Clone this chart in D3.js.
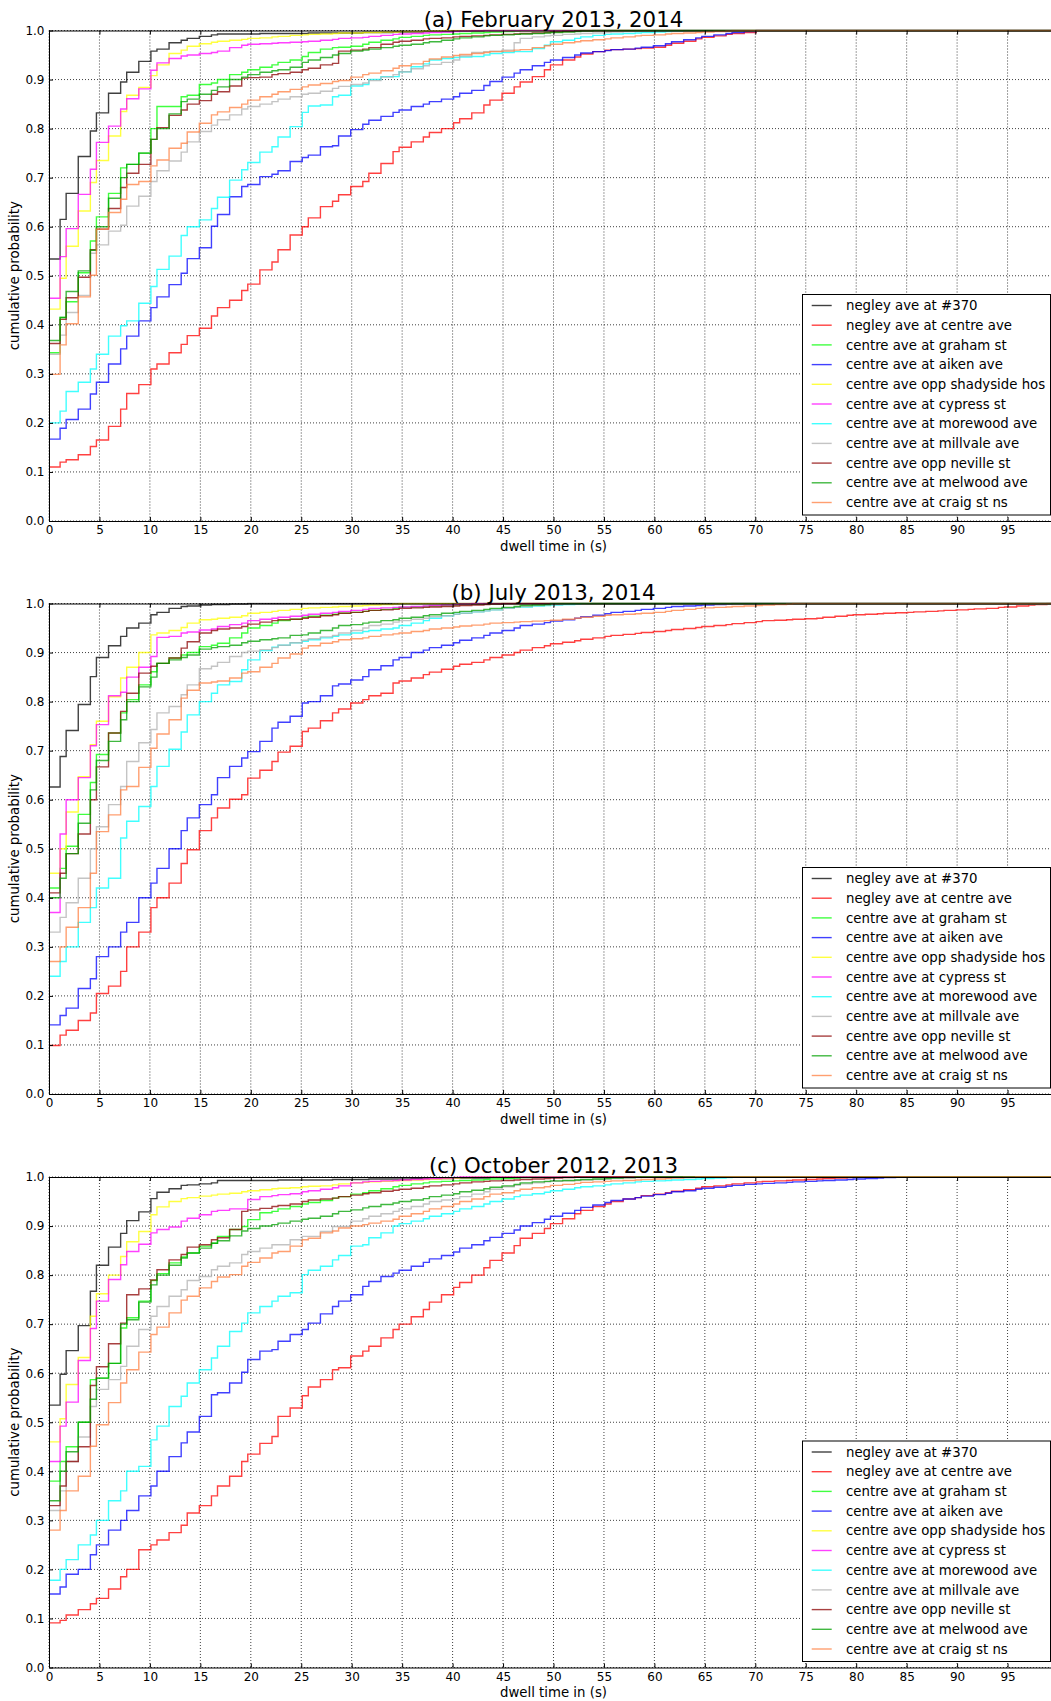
<!DOCTYPE html>
<html>
<head>
<meta charset="utf-8">
<script src="https://cdn.jsdelivr.net/npm/d3@7"></script>
<style>
  html, body { margin: 0; padding: 0; background: #fff; }
  svg { display: block; font-family: "DejaVu Sans", sans-serif; }
</style>
</head>
<body>
<svg id="chart" width="1051" height="1701"></svg>
<script>
// Dwell times (s) at which the empirical CDFs step up.
const stepTimes = [0, 1.1, 1.7, 2.9, 4.1, 4.7, 5.9, 7.1, 7.7, 8.9, 10.1, 10.7, 11.9, 13.1, 13.7, 14.9, 16.1, 16.7, 17.9,
  19.1, 19.7, 20.9, 22.1, 22.7, 23.9, 25.1, 25.7, 26.9, 28.1, 28.7, 29.9, 31.1, 31.7, 32.9, 34.1, 34.7, 35.9,
  37.1, 37.7, 38.9, 40.1, 40.7, 41.9, 43.1, 43.7, 44.9, 46.1, 46.7, 47.9, 49.1, 49.7, 50.9, 52.1, 52.7, 53.9,
  55.1, 55.7, 56.9, 58.1, 58.7, 59.9, 61.1, 61.7, 62.9, 64.1, 64.7, 65.9, 67.1, 67.7, 68.9, 70.1, 70.7, 71.9,
  73.1, 73.7, 74.9, 76.1, 76.7, 77.9, 79.1, 79.7, 80.9, 82.1, 82.7, 83.9, 85.1, 85.7, 86.9, 88.1, 88.7, 89.9,
  91.1, 91.7, 92.9, 94.1, 94.7, 95.9, 97.1, 97.7, 98.9];

const stopNames = [
  "negley ave at #370",
  "negley ave at centre ave",
  "centre ave at graham st",
  "centre ave at aiken ave",
  "centre ave opp shadyside hos",
  "centre ave at cypress st",
  "centre ave at morewood ave",
  "centre ave at millvale ave",
  "centre ave opp neville st",
  "centre ave at melwood ave",
  "centre ave at craig st ns"
];

const panelTitles = ["(a) February 2013, 2014", "(b) July 2013, 2014", "(c) October 2012, 2013"];
const xTickValues = [0, 5, 10, 15, 20, 25, 30, 35, 40, 45, 50, 55, 60, 65, 70, 75, 80, 85, 90, 95];
const yTickValues = [0, 0.1, 0.2, 0.3, 0.4, 0.5, 0.6, 0.7, 0.8, 0.9, 1.0];

// Cumulative probability after each step time, one row per stop (same order as stopNames).
const cdfFeb = [
  [0.534,0.615,0.668,0.743,0.795,0.832,0.872,0.895,0.915,0.937,0.958,0.962,0.975,0.980,0.984,0.988,0.991,0.993,0.993,0.993,0.993,0.994,0.994,0.994,0.994,0.994,0.995,0.995,0.995,0.995,0.995,0.996,0.996,0.996,0.997,0.997,0.997,0.998,0.998,0.998,0.999,0.999,0.999,1],
  [0.110,0.120,0.125,0.135,0.152,0.165,0.193,0.228,0.260,0.278,0.310,0.320,0.343,0.360,0.378,0.393,0.418,0.435,0.450,0.470,0.483,0.512,0.528,0.553,0.583,0.600,0.618,0.641,0.652,0.665,0.682,0.692,0.709,0.729,0.753,0.762,0.773,0.783,0.792,0.800,0.812,0.820,0.832,0.848,0.858,0.872,0.885,0.895,0.906,0.920,0.930,0.940,0.946,0.952,0.957,0.960,0.961,0.962,0.963,0.964,0.966,0.970,0.974,0.978,0.983,0.986,0.989,0.992,0.994,0.996,1],
  [0.343,0.415,0.447,0.506,0.571,0.620,0.668,0.720,0.727,0.750,0.800,0.845,0.845,0.865,0.868,0.890,0.893,0.900,0.910,0.915,0.920,0.925,0.930,0.935,0.940,0.947,0.955,0.962,0.965,0.966,0.968,0.972,0.976,0.980,0.983,0.986,0.988,0.990,0.991,0.992,0.993,0.994,0.995,0.996,0.997,0.998,0.999,1],
  [0.167,0.189,0.207,0.228,0.259,0.283,0.320,0.351,0.377,0.408,0.435,0.457,0.482,0.505,0.535,0.557,0.601,0.625,0.661,0.682,0.686,0.702,0.707,0.714,0.733,0.741,0.746,0.763,0.765,0.785,0.798,0.809,0.817,0.825,0.833,0.838,0.845,0.850,0.855,0.860,0.865,0.872,0.878,0.888,0.896,0.905,0.913,0.920,0.928,0.935,0.940,0.945,0.950,0.954,0.957,0.959,0.961,0.962,0.964,0.966,0.969,0.973,0.977,0.981,0.985,0.988,0.991,0.994,0.996,0.998,1],
  [0.432,0.495,0.560,0.632,0.690,0.735,0.785,0.835,0.868,0.884,0.908,0.930,0.953,0.960,0.968,0.973,0.976,0.978,0.980,0.982,0.984,0.985,0.987,0.988,0.990,0.991,0.992,0.993,0.994,0.995,0.995,0.996,0.996,0.997,0.997,0.998,0.998,0.999,0.999,1],
  [0.454,0.539,0.596,0.666,0.717,0.772,0.805,0.840,0.861,0.881,0.919,0.934,0.943,0.948,0.950,0.953,0.955,0.958,0.965,0.970,0.972,0.973,0.974,0.975,0.976,0.977,0.978,0.980,0.982,0.984,0.985,0.986,0.988,0.990,0.992,0.993,0.994,0.995,0.996,0.997,0.998,0.999,1],
  [0.200,0.224,0.264,0.283,0.310,0.340,0.377,0.398,0.408,0.444,0.478,0.513,0.540,0.582,0.600,0.614,0.637,0.660,0.695,0.716,0.731,0.752,0.763,0.783,0.804,0.833,0.846,0.848,0.865,0.868,0.887,0.890,0.900,0.906,0.906,0.916,0.926,0.932,0.940,0.943,0.945,0.946,0.947,0.950,0.953,0.955,0.957,0.957,0.963,0.970,0.977,0.980,0.984,0.987,0.990,0.992,0.993,0.994,0.995,0.996,0.997,0.998,0.999,1],
  [0.340,0.379,0.425,0.460,0.546,0.563,0.591,0.603,0.642,0.662,0.692,0.714,0.734,0.752,0.773,0.794,0.807,0.818,0.828,0.840,0.845,0.850,0.855,0.860,0.865,0.870,0.872,0.876,0.882,0.886,0.890,0.893,0.898,0.905,0.910,0.916,0.922,0.928,0.931,0.935,0.940,0.948,0.955,0.957,0.958,0.960,0.975,0.984,0.987,0.989,0.990,0.992,0.993,0.994,0.995,0.996,0.997,0.998,0.999,1],
  [0.362,0.411,0.455,0.497,0.553,0.595,0.637,0.680,0.709,0.727,0.778,0.802,0.827,0.838,0.850,0.857,0.870,0.875,0.887,0.903,0.904,0.905,0.910,0.912,0.915,0.920,0.923,0.930,0.933,0.958,0.960,0.962,0.965,0.972,0.976,0.978,0.980,0.983,0.984,0.985,0.987,0.988,0.989,0.990,0.991,0.992,0.993,0.994,0.995,0.996,0.997,0.998,0.999,1],
  [0.368,0.415,0.468,0.510,0.552,0.600,0.658,0.700,0.727,0.750,0.778,0.800,0.830,0.855,0.860,0.870,0.878,0.885,0.900,0.905,0.910,0.915,0.918,0.920,0.925,0.935,0.940,0.945,0.950,0.953,0.958,0.960,0.962,0.965,0.968,0.970,0.972,0.975,0.977,0.980,0.983,0.985,0.987,0.989,0.990,0.991,0.992,0.993,0.994,0.995,0.996,0.997,0.998,0.999,1],
  [0.299,0.359,0.402,0.457,0.501,0.595,0.629,0.656,0.686,0.692,0.724,0.736,0.760,0.770,0.793,0.811,0.828,0.834,0.843,0.850,0.858,0.865,0.870,0.875,0.880,0.885,0.889,0.892,0.896,0.898,0.905,0.910,0.913,0.918,0.923,0.928,0.932,0.937,0.942,0.946,0.949,0.951,0.953,0.955,0.957,0.958,0.960,0.961,0.965,0.969,0.972,0.975,0.977,0.979,0.981,0.983,0.985,0.987,0.989,0.990,0.991,0.993,0.994,0.995,0.996,0.997,0.998,0.999,1]
];

const cdfJul = [
  [0.626,0.688,0.741,0.794,0.851,0.890,0.914,0.933,0.950,0.960,0.977,0.982,0.990,0.994,0.995,0.997,0.998,0.998,0.999,0.999,1],
  [0.099,0.120,0.130,0.150,0.165,0.205,0.220,0.250,0.300,0.330,0.380,0.400,0.430,0.470,0.498,0.537,0.563,0.583,0.601,0.610,0.644,0.660,0.678,0.697,0.709,0.739,0.746,0.761,0.777,0.785,0.797,0.804,0.812,0.817,0.838,0.842,0.848,0.855,0.860,0.866,0.872,0.876,0.880,0.885,0.890,0.895,0.900,0.905,0.910,0.914,0.918,0.921,0.924,0.927,0.930,0.933,0.935,0.937,0.939,0.941,0.943,0.945,0.947,0.949,0.951,0.953,0.955,0.957,0.959,0.961,0.963,0.965,0.966,0.967,0.968,0.969,0.970,0.972,0.974,0.976,0.977,0.978,0.979,0.980,0.981,0.982,0.983,0.984,0.985,0.986,0.987,0.988,0.989,0.990,0.992,0.993,0.995,0.997,0.998,1],
  [0.420,0.460,0.505,0.570,0.635,0.692,0.736,0.777,0.804,0.834,0.861,0.878,0.889,0.895,0.900,0.912,0.915,0.919,0.930,0.940,0.950,0.955,0.960,0.965,0.968,0.972,0.974,0.976,0.978,0.980,0.982,0.984,0.986,0.988,0.990,0.992,0.993,0.994,0.995,0.996,0.997,0.998,0.999,1],
  [0.141,0.160,0.175,0.215,0.235,0.280,0.300,0.330,0.350,0.400,0.430,0.460,0.500,0.537,0.563,0.590,0.610,0.645,0.668,0.685,0.698,0.719,0.746,0.758,0.770,0.797,0.800,0.812,0.832,0.836,0.844,0.851,0.865,0.873,0.885,0.890,0.900,0.905,0.910,0.915,0.920,0.925,0.930,0.935,0.940,0.945,0.950,0.955,0.958,0.961,0.964,0.967,0.970,0.973,0.976,0.979,0.982,0.984,0.986,0.988,0.990,0.992,0.994,0.995,0.996,0.997,0.998,0.999,1],
  [0.450,0.500,0.575,0.647,0.712,0.760,0.810,0.848,0.870,0.900,0.936,0.940,0.945,0.951,0.960,0.967,0.968,0.970,0.972,0.975,0.980,0.982,0.984,0.986,0.988,0.990,0.991,0.992,0.993,0.994,0.995,0.996,0.997,0.998,0.999,1],
  [0.370,0.530,0.600,0.645,0.710,0.753,0.812,0.819,0.850,0.870,0.892,0.931,0.933,0.940,0.942,0.946,0.948,0.953,0.957,0.960,0.965,0.968,0.970,0.972,0.974,0.976,0.978,0.980,0.982,0.984,0.986,0.988,0.990,0.991,0.992,0.993,0.994,0.995,0.996,0.997,0.998,0.999,1],
  [0.240,0.270,0.300,0.350,0.380,0.420,0.440,0.522,0.556,0.586,0.627,0.668,0.703,0.738,0.773,0.800,0.817,0.834,0.841,0.865,0.885,0.904,0.911,0.915,0.920,0.923,0.926,0.930,0.933,0.936,0.940,0.943,0.945,0.948,0.950,0.955,0.960,0.965,0.970,0.975,0.978,0.980,0.983,0.985,0.987,0.990,0.992,0.993,0.995,0.996,0.997,0.998,0.999,1],
  [0.330,0.360,0.390,0.440,0.500,0.545,0.590,0.627,0.678,0.716,0.743,0.777,0.790,0.814,0.834,0.867,0.872,0.880,0.892,0.900,0.903,0.906,0.910,0.915,0.920,0.925,0.928,0.932,0.935,0.940,0.945,0.950,0.955,0.958,0.962,0.965,0.968,0.970,0.973,0.975,0.978,0.980,0.983,0.985,0.987,0.990,0.992,0.994,0.996,0.997,0.998,1],
  [0.410,0.450,0.490,0.530,0.600,0.667,0.736,0.780,0.817,0.858,0.872,0.878,0.889,0.909,0.922,0.940,0.945,0.948,0.950,0.953,0.958,0.962,0.965,0.967,0.968,0.970,0.972,0.975,0.977,0.980,0.982,0.984,0.986,0.987,0.988,0.990,0.991,0.992,0.993,0.994,0.995,0.996,0.997,0.998,0.999,1],
  [0.400,0.440,0.490,0.552,0.620,0.680,0.719,0.763,0.800,0.830,0.850,0.878,0.885,0.890,0.895,0.907,0.910,0.912,0.915,0.920,0.923,0.926,0.928,0.930,0.935,0.936,0.940,0.945,0.950,0.955,0.957,0.960,0.962,0.965,0.967,0.970,0.972,0.975,0.977,0.980,0.982,0.984,0.986,0.988,0.990,0.992,0.994,0.996,0.997,0.998,1],
  [0.270,0.300,0.340,0.380,0.450,0.535,0.569,0.620,0.627,0.666,0.705,0.734,0.763,0.807,0.823,0.838,0.840,0.842,0.848,0.858,0.861,0.870,0.878,0.889,0.897,0.909,0.914,0.919,0.922,0.926,0.928,0.930,0.933,0.936,0.938,0.940,0.943,0.945,0.948,0.950,0.952,0.954,0.956,0.958,0.960,0.961,0.962,0.963,0.964,0.965,0.966,0.968,0.970,0.972,0.974,0.976,0.977,0.978,0.979,0.980,0.982,0.984,0.986,0.988,0.990,0.991,0.992,0.993,0.994,0.995,0.996,0.997,0.998,0.999,1]
];

const cdfOct = [
  [0.535,0.598,0.646,0.697,0.767,0.820,0.857,0.885,0.911,0.929,0.956,0.969,0.976,0.983,0.984,0.986,0.988,0.993,0.993,0.993,0.993,0.993,0.993,0.994,0.994,0.994,0.994,0.994,0.995,0.995,0.995,0.995,0.996,0.996,0.996,0.996,0.997,0.997,0.997,0.997,0.998,0.998,0.998,0.998,0.999,0.999,0.999,1],
  [0.091,0.096,0.107,0.118,0.130,0.141,0.160,0.185,0.200,0.240,0.250,0.260,0.275,0.290,0.315,0.330,0.350,0.370,0.390,0.420,0.435,0.457,0.471,0.512,0.529,0.554,0.572,0.587,0.607,0.611,0.635,0.645,0.655,0.672,0.689,0.700,0.715,0.730,0.745,0.760,0.775,0.785,0.800,0.815,0.830,0.845,0.860,0.875,0.885,0.895,0.905,0.915,0.925,0.932,0.940,0.945,0.950,0.955,0.958,0.962,0.965,0.968,0.971,0.974,0.977,0.980,0.982,0.984,0.986,0.988,0.990,0.991,0.992,0.993,0.994,0.995,0.996,0.997,0.998,0.999,1],
  [0.380,0.420,0.450,0.500,0.587,0.590,0.620,0.692,0.713,0.747,0.789,0.803,0.825,0.837,0.845,0.859,0.865,0.879,0.893,0.899,0.913,0.927,0.930,0.935,0.940,0.945,0.948,0.952,0.957,0.960,0.965,0.968,0.972,0.976,0.980,0.983,0.986,0.988,0.990,0.991,0.992,0.993,0.994,0.995,0.996,0.997,0.998,0.999,1],
  [0.150,0.164,0.190,0.200,0.230,0.250,0.280,0.300,0.320,0.350,0.370,0.400,0.430,0.458,0.480,0.512,0.556,0.560,0.580,0.602,0.628,0.645,0.648,0.665,0.679,0.689,0.702,0.721,0.736,0.747,0.760,0.777,0.787,0.797,0.804,0.810,0.818,0.826,0.833,0.840,0.847,0.855,0.862,0.870,0.877,0.885,0.892,0.900,0.907,0.914,0.920,0.926,0.932,0.938,0.943,0.948,0.952,0.955,0.958,0.961,0.964,0.967,0.970,0.972,0.975,0.977,0.979,0.981,0.983,0.985,0.986,0.987,0.988,0.989,0.990,0.991,0.992,0.993,0.994,0.995,0.996,0.997,0.998,0.999,1],
  [0.460,0.507,0.577,0.632,0.716,0.762,0.800,0.838,0.868,0.889,0.923,0.939,0.950,0.956,0.958,0.961,0.963,0.965,0.967,0.970,0.972,0.974,0.976,0.977,0.978,0.980,0.981,0.982,0.984,0.986,0.988,0.989,0.990,0.991,0.992,0.993,0.994,0.995,0.996,0.997,0.998,0.999,1],
  [0.420,0.492,0.541,0.626,0.691,0.747,0.791,0.821,0.848,0.863,0.886,0.893,0.898,0.910,0.916,0.923,0.930,0.932,0.935,0.935,0.954,0.960,0.962,0.964,0.966,0.970,0.972,0.975,0.978,0.982,0.988,0.990,0.991,0.992,0.993,0.994,0.995,0.996,0.997,0.998,0.999,1],
  [0.178,0.200,0.220,0.250,0.270,0.300,0.340,0.360,0.400,0.410,0.464,0.492,0.532,0.553,0.580,0.607,0.631,0.655,0.685,0.702,0.723,0.736,0.747,0.757,0.764,0.801,0.810,0.818,0.831,0.840,0.859,0.862,0.876,0.886,0.900,0.905,0.910,0.915,0.920,0.925,0.930,0.935,0.940,0.945,0.950,0.955,0.960,0.963,0.966,0.969,0.972,0.975,0.978,0.980,0.982,0.984,0.986,0.988,0.990,0.991,0.992,0.993,0.994,0.995,0.996,0.997,0.998,0.999,1],
  [0.320,0.360,0.420,0.470,0.532,0.567,0.587,0.614,0.655,0.689,0.716,0.736,0.757,0.770,0.789,0.797,0.811,0.818,0.825,0.842,0.848,0.855,0.862,0.862,0.872,0.879,0.879,0.889,0.899,0.899,0.910,0.915,0.920,0.925,0.930,0.935,0.940,0.945,0.950,0.953,0.956,0.960,0.965,0.970,0.975,0.980,0.983,0.986,0.988,0.990,0.991,0.992,0.993,0.994,0.995,0.996,0.997,0.998,0.999,1],
  [0.330,0.370,0.420,0.450,0.575,0.613,0.660,0.702,0.760,0.772,0.790,0.811,0.831,0.842,0.857,0.862,0.872,0.876,0.893,0.930,0.933,0.936,0.940,0.942,0.945,0.950,0.953,0.955,0.957,0.960,0.963,0.966,0.968,0.971,0.973,0.975,0.977,0.980,0.982,0.984,0.986,0.988,0.990,0.991,0.992,0.993,0.994,0.995,0.996,0.997,0.998,0.999,1],
  [0.340,0.400,0.440,0.500,0.547,0.590,0.620,0.700,0.709,0.745,0.780,0.800,0.820,0.835,0.845,0.855,0.865,0.870,0.880,0.890,0.895,0.900,0.903,0.906,0.910,0.914,0.916,0.920,0.925,0.930,0.933,0.937,0.940,0.944,0.947,0.950,0.953,0.956,0.960,0.963,0.966,0.970,0.973,0.976,0.979,0.982,0.985,0.988,0.990,0.991,0.992,0.993,0.994,0.995,0.996,0.997,0.998,0.999,1],
  [0.280,0.320,0.360,0.390,0.451,0.495,0.540,0.580,0.607,0.643,0.679,0.694,0.723,0.749,0.757,0.774,0.787,0.796,0.801,0.818,0.826,0.835,0.845,0.848,0.859,0.872,0.875,0.886,0.890,0.896,0.900,0.903,0.906,0.910,0.914,0.920,0.925,0.930,0.935,0.940,0.945,0.950,0.955,0.960,0.965,0.968,0.972,0.975,0.978,0.980,0.983,0.985,0.987,0.989,0.990,0.991,0.992,0.993,0.994,0.995,0.996,0.997,0.998,0.999,1]
];

// One colour per stop.
const lineColors = ["#000000", "#ff0000", "#00ff00", "#0000ff", "#ffff00", "#ff00ff",
                    "#00ffff", "#b0b0b0", "#8b0000", "#00a000", "#ff7f40"];

const W = 1051, H = 1701;
const plotLeft = 49, plotRight = 1058, plotHeight = 490.5;
const panelTops = [30.5, 603.5, 1177];
const panelData = [cdfFeb, cdfJul, cdfOct];

const svg = d3.select("#chart");
svg.append("rect").attr("width", W).attr("height", H).attr("fill", "#fff");

const x = d3.scaleLinear().domain([0, 100]).range([plotLeft, plotRight]);

// Pair each cumulative value with its step time, and hold the last value out to the axis end.
function toSteps(values) {
  const pts = values.map((v, i) => [stepTimes[i], v]);
  pts.push([100, values[values.length - 1]]);
  return pts;
}

panelData.forEach((series, pi) => {
  const top = panelTops[pi];
  const bottom = top + plotHeight;
  const y = d3.scaleLinear().domain([0, 1]).range([bottom, top]);
  const g = svg.append("g");

  // dotted grid
  const grid = g.append("g").attr("stroke", "#000").attr("stroke-width", 1)
    .attr("stroke-dasharray", "1,2").attr("stroke-opacity", 0.75);
  grid.selectAll("line.vx").data(xTickValues).join("line").attr("class", "vx")
    .attr("x1", d => x(d)).attr("x2", d => x(d)).attr("y1", top).attr("y2", bottom);
  grid.selectAll("line.hy").data(yTickValues).join("line").attr("class", "hy")
    .attr("x1", plotLeft).attr("x2", plotRight).attr("y1", d => y(d)).attr("y2", d => y(d));

  // CDF step lines
  const clipId = "plot-clip-" + pi;
  svg.append("clipPath").attr("id", clipId).append("rect")
    .attr("x", plotLeft).attr("y", top - 1).attr("width", plotRight - plotLeft).attr("height", plotHeight + 1);
  const line = d3.line().x(d => x(d[0])).y(d => y(d[1])).curve(d3.curveStepAfter);
  g.append("g").attr("clip-path", `url(#${clipId})`)
    .selectAll("path").data(series).join("path")
    .attr("d", vals => line(toSteps(vals)))
    .attr("fill", "none")
    .attr("stroke", (d, i) => lineColors[i])
    .attr("stroke-opacity", 0.75)
    .attr("stroke-width", 1.4);

  // axes with inward ticks
  const xAxis = g.append("g").attr("transform", `translate(0,${bottom})`)
    .call(d3.axisBottom(x).tickValues(xTickValues).tickFormat(d3.format("d"))
      .tickSizeInner(-4).tickSizeOuter(0).tickPadding(4.5));
  const xTop = g.append("g").attr("transform", `translate(0,${top})`)
    .call(d3.axisTop(x).tickValues(xTickValues).tickFormat("")
      .tickSizeInner(-4).tickSizeOuter(0));
  const yAxis = g.append("g").attr("transform", `translate(${plotLeft},0)`)
    .call(d3.axisLeft(y).tickValues(yTickValues).tickFormat(d3.format(".1f"))
      .tickSizeInner(-4).tickSizeOuter(0).tickPadding(4.5));
  [xAxis, xTop, yAxis].forEach(a => {
    a.attr("font-family", "DejaVu Sans, sans-serif").attr("font-size", 12);
    a.select(".domain").attr("stroke", "#000").attr("stroke-width", 1);
    a.selectAll(".tick line").attr("stroke", "#000").attr("stroke-width", 1);
    a.selectAll(".tick text").attr("fill", "#000");
  });

  // title and axis labels
  g.append("text").attr("x", (plotLeft + plotRight) / 2).attr("y", top - 4)
    .attr("text-anchor", "middle").attr("font-size", 21.3).attr("fill", "#000")
    .text(panelTitles[pi]);
  g.append("text").attr("x", (plotLeft + plotRight) / 2).attr("y", bottom + 29.5)
    .attr("text-anchor", "middle").attr("font-size", 13.3).attr("fill", "#000")
    .text("dwell time in (s)");
  g.append("text")
    .attr("transform", `translate(19,${(top + bottom) / 2}) rotate(-90)`)
    .attr("text-anchor", "middle").attr("font-size", 13.3).attr("fill", "#000")
    .text("cumulative probability");

  // legend, lower right
  const legTop = top + 264;
  const leg = g.append("g");
  leg.append("rect").attr("x", 802.5).attr("y", legTop).attr("width", 248).attr("height", 220.5)
    .attr("fill", "#fff").attr("stroke", "#000").attr("stroke-width", 1);
  const rows = leg.selectAll("g.row").data(stopNames).join("g").attr("class", "row")
    .attr("transform", (d, i) => `translate(0,${legTop + 11 + i * 19.7})`);
  rows.append("line").attr("x1", 811.7).attr("x2", 831.7).attr("y1", 0).attr("y2", 0)
    .attr("stroke", (d, i) => lineColors[i]).attr("stroke-opacity", 0.75).attr("stroke-width", 1.4);
  rows.append("text").attr("x", 846).attr("y", 0).attr("dy", "0.35em")
    .attr("font-size", 13.3).attr("fill", "#000").text(d => d);
});
</script>
</body>
</html>
